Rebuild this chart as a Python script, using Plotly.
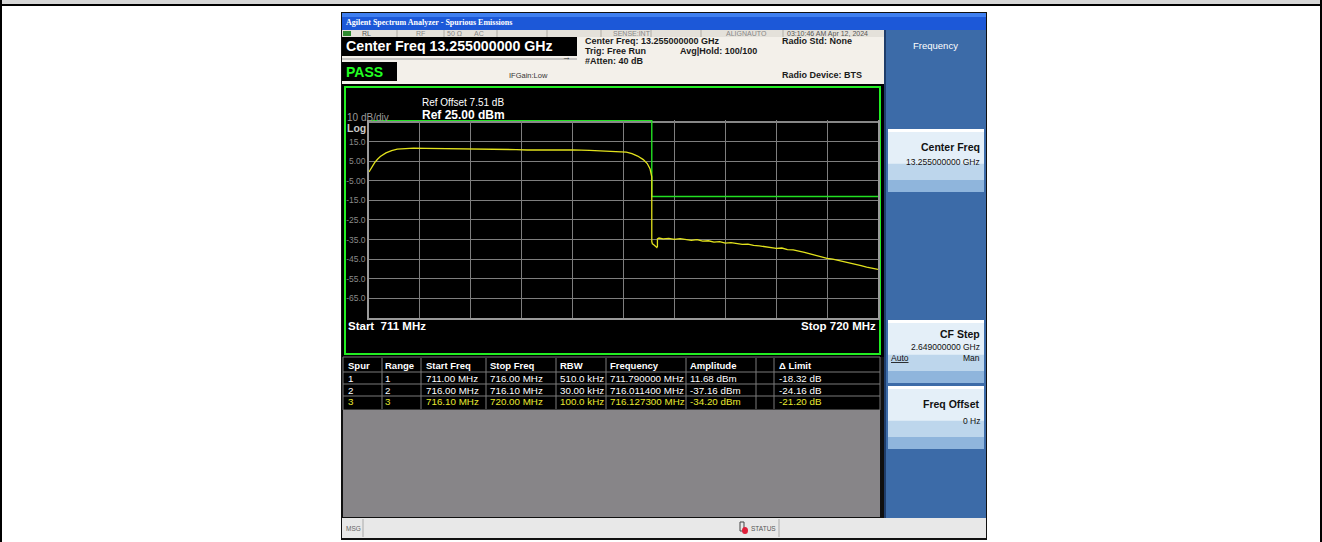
import plotly.graph_objects as go
import numpy as np

W, H = 1322, 542
FONT = "Liberation Sans, Arial, sans-serif"

# ---------------- data ----------------
freq_mhz = [711.00, 711.05, 711.10, 711.15, 711.20, 711.30, 711.40, 711.50, 711.60, 711.79,
            712.00, 712.30, 712.60, 712.80, 713.00, 713.30, 713.60, 713.80, 714.00, 714.30,
            714.60, 714.90, 715.20, 715.40, 715.55, 715.65, 715.75, 715.85, 715.92, 715.97,
            716.00, 716.00, 716.011, 716.03, 716.05, 716.07, 716.09, 716.10, 716.10, 716.127,
            716.20, 716.30, 716.40, 716.50, 716.60, 716.70, 716.80, 716.90, 717.00, 717.10,
            717.20, 717.30, 717.40, 717.50, 717.60, 717.70, 717.80, 717.90, 718.00, 718.10,
            718.20, 718.30, 718.40, 718.50, 718.60, 718.70, 718.80, 718.90, 719.00, 719.10,
            719.20, 719.30, 719.40, 719.50, 719.60, 719.70, 719.80, 719.90, 720.00]
level_dbm = [-0.5, 2.0, 4.3, 6.0, 7.4, 9.2, 10.4, 11.1, 11.4, 11.68,
             11.5, 11.4, 11.3, 11.5, 11.3, 11.2, 10.9, 10.7, 10.8, 10.9,
             10.8, 10.5, 10.2, 10.1, 9.6, 8.8, 7.6, 5.8, 3.8, 1.0,
             -3.0, -36.0, -37.16, -37.5, -38.2, -38.8, -39.0, -38.5, -34.6, -34.20,
             -34.6, -34.4, -34.9, -34.5, -35.1, -35.4, -35.0, -35.8, -35.6, -36.3,
             -36.0, -36.8, -36.6, -37.0, -37.4, -37.3, -38.0, -38.2, -38.7, -39.0,
             -39.5, -39.3, -40.1, -40.3, -40.8, -41.5, -42.3, -43.1, -43.9, -44.6,
             -45.0, -45.6, -46.4, -47.0, -47.7, -48.3, -49.0, -49.6, -50.2]

limit_start_mhz = [711.0, 716.0, 716.1]
limit_stop_mhz = [716.0, 716.1, 720.0]
limit_dbm = [30.0, -13.0, -13.0]

y_tick_vals = [15, 5, -5, -15, -25, -35, -45, -55, -65]
y_tick_text = ["15.0", "5.00", "-5.00", "-15.0", "-25.0", "-35.0", "-45.0", "-55.0", "-65.0"]

ref_level = 25.0
db_per_div = 10
start_mhz, stop_mhz = 711.0, 720.0

spur_ids = ["1", "2", "3"]
range_ids = ["1", "2", "3"]
range_start = ["711.00 MHz", "716.00 MHz", "716.10 MHz"]
range_stop = ["716.00 MHz", "716.10 MHz", "720.00 MHz"]
rbw = ["510.0 kHz", "30.00 kHz", "100.0 kHz"]
spur_freq = ["711.790000 MHz", "716.011400 MHz", "716.127300 MHz"]
spur_amp = ["11.68 dBm", "-37.16 dBm", "-34.20 dBm"]
delta_limit = ["-18.32 dB", "-24.16 dB", "-21.20 dB"]
table_headers = ["Spur", "Range", "Start Freq", "Stop Freq", "RBW", "Frequency", "Amplitude", "", "\u0394 Limit"]

# ---------------- helpers ----------------
shapes, annots = [], []


def P(x):
    return x / W


def Q(y):
    return 1 - y / H


def rect(x0, y0, x1, y1, fill, line=None, lw=0, layer="below"):
    shapes.append(dict(type="rect", xref="paper", yref="paper",
                       x0=P(x0), x1=P(x1), y0=Q(y1), y1=Q(y0),
                       fillcolor=fill, line=dict(width=lw, color=line or fill), layer=layer))


def hline(x0, x1, y, color, lw=1, layer="below"):
    shapes.append(dict(type="line", xref="paper", yref="paper", x0=P(x0), x1=P(x1),
                       y0=Q(y), y1=Q(y), line=dict(color=color, width=lw), layer=layer))


def vline(x, y0, y1, color, lw=1, layer="below"):
    shapes.append(dict(type="line", xref="paper", yref="paper", x0=P(x), x1=P(x),
                       y0=Q(y0), y1=Q(y1), line=dict(color=color, width=lw), layer=layer))


def text(x, y, s, size, color, bold=False, anchor="left", family=FONT):
    annots.append(dict(xref="paper", yref="paper", x=P(x), y=Q(y),
                       text=("<b>%s</b>" % s) if bold else s, showarrow=False,
                       xanchor=anchor, yanchor="middle", borderpad=0,
                       font=dict(size=size, color=color, family=family)))


# ---------------- document frame ----------------
rect(0, 0, W, 4, "#d6d6d6")
rect(0, 4, W, 6, "#000000")
rect(0, 0, 2, H, "#000000")
rect(W - 2, 0, W, H, "#000000")

# ---------------- analyzer screenshot ----------------
rect(341, 12, 987, 540, "#101010")
# title bar
rect(342, 13, 986, 30, "#1c58d8")
rect(342, 13, 986, 17, "#3f7ff0")
text(345, 23, "Agilent Spectrum Analyzer - Spurious Emissions", 8, "#ffffff", bold=True,
     family="Liberation Serif, Times New Roman, serif")
# status row
rect(342, 30, 884, 37, "#e4e1da")
rect(343, 31, 351, 36, "#2f8a2f")
text(361, 33.5, "RL", 7, "#555555")
text(415, 33.5, "RF", 7, "#888888")
text(446, 33.5, "50 \u03a9", 7, "#888888")
text(473, 33.5, "AC", 7, "#888888")
text(612, 33.5, "SENSE:INT", 7, "#888888")
text(725, 33.5, "ALIGNAUTO", 7, "#888888")
text(786, 33.5, "03:10:46 AM Apr 12, 2024", 7, "#555555")
for sx in [397, 444, 497, 547, 601, 651, 701, 783]:
    vline(sx, 30, 37, "#b0aca4")
# header
rect(342, 37, 884, 84, "#f3f0ea")
rect(342, 37, 577, 56, "#000000")
text(345, 46, "Center Freq 13.255000000 GHz", 14.2, "#ffffff", bold=True)
rect(342, 62, 397, 81, "#000000")
text(345, 71.5, "PASS", 14, "#22ff22", bold=True)
hline(342, 577, 59, "#9a9a9a")
text(508, 75, "IFGain:Low", 7.5, "#333333")
text(561, 57, "\u2192", 9, "#333333")
text(584, 41, "Center Freq: 13.255000000 GHz", 9, "#1a1a1a", bold=True)
text(584, 51, "Trig: Free Run", 9, "#1a1a1a", bold=True)
text(679, 51, "Avg|Hold: 100/100", 9, "#1a1a1a", bold=True)
text(584, 61, "#Atten: 40 dB", 9, "#1a1a1a", bold=True)
text(781, 41, "Radio Std: None", 9, "#1a1a1a", bold=True)
text(781, 75, "Radio Device: BTS", 9, "#1a1a1a", bold=True)

# graticule window
rect(342, 84, 884, 357, "#000000")
rect(345, 87, 880, 354, "rgba(0,0,0,0)", line="#22ee22", lw=2)
text(421, 103, "Ref Offset 7.51 dB", 10, "#ffffff")
text(421, 115, "Ref 25.00 dBm", 12, "#ffffff", bold=True)
text(346, 118, "10 dB/div", 10, "#9a9a9a")
text(346, 128, "Log", 10.5, "#c8c8c8", bold=True)
text(347, 326, "Start  711 MHz", 11.5, "#ffffff", bold=True)
text(877, 326, "Stop 720 MHz", 11.5, "#ffffff", bold=True, anchor="right")

# results table
rect(343, 357, 880, 410, "#000000", line="#777777", lw=1)
col_x = [347, 384, 425, 489, 559, 609, 689, 758, 778]
sep_x = [382, 421, 486, 556, 606, 686, 756, 774]
row_y = [365, 378, 390, 402]
row_bounds = [372, 384, 396]
for sx in sep_x:
    vline(sx, 358, 409, "#7a7a7a")
for by in row_bounds:
    hline(343, 880, by, "#7a7a7a")
for cx, h in zip(col_x, table_headers):
    if h:
        text(cx, row_y[0], h, 9.5, "#ffffff", bold=True)
rows = list(zip(spur_ids, range_ids, range_start, range_stop, rbw, spur_freq, spur_amp, ["", "", ""], delta_limit))
for i, r in enumerate(rows):
    col = "#e8e830" if i == 2 else "#ffffff"
    for cx, val in zip(col_x, r):
        if val:
            text(cx, row_y[i + 1], val, 9.8, col)

# grey area
rect(343, 410, 880, 517, "#878588")

# right softkey panel
rect(884, 30, 986, 518, "#3c6ba8")
vline(885, 30, 518, "#1f3d6a", lw=2)
text(935, 46, "Frequency", 9.5, "#ffffff", anchor="center")


def softkey(y0, y1):
    rect(888, y0, 984, y1, "#bdd6ec")
    rect(888, y0, 984, y0 + 3, "#ffffff")
    rect(888, y0 + 3, 984, y0 + (y1 - y0) * 0.55, "#e4eff8")
    rect(888, y1 - 12, 984, y1, "#8fb5dc")


softkey(129, 192)
text(981, 147, "Center Freq", 10.5, "#111111", bold=True, anchor="right")
text(981, 162, "13.255000000 GHz", 8.5, "#111111", anchor="right")
softkey(320, 383)
text(981, 334, "CF Step", 10.5, "#111111", bold=True, anchor="right")
text(981, 347, "2.649000000 GHz", 8.5, "#111111", anchor="right")
text(890, 358, "<u>Auto</u>", 8.5, "#111111")
text(981, 358, "Man", 8.5, "#111111", anchor="right")
softkey(386, 449)
text(981, 404, "Freq Offset", 10.5, "#111111", bold=True, anchor="right")
text(981, 421, "0 Hz", 8.5, "#111111", anchor="right")

# message bar
rect(342, 518, 986, 538, "#e8e8e8")
text(345, 528, "MSG", 6.5, "#666666")
vline(363, 519, 537, "#aaaaaa")
rect(740, 522, 744, 531, "rgba(0,0,0,0)", line="#444444", lw=1)
shapes.append(dict(type="circle", xref="paper", yref="paper", x0=P(742), x1=P(748), y0=Q(534), y1=Q(527),
                   fillcolor="#e0203a", line=dict(width=0), layer="below"))
text(750, 528, "STATUS", 6.5, "#555555")
vline(779, 519, 537, "#aaaaaa")

# ---------------- spectrum plot ----------------
y_top = ref_level + 1.0
y_bot = ref_level - 10 * db_per_div

lim_x, lim_y = [], []
for a, b, l in zip(limit_start_mhz, limit_stop_mhz, limit_dbm):
    lim_x += [a, b]
    lim_y += [l, l]
lim_y_disp = list(np.minimum(np.array(lim_y), y_top - 0.2))

fig = go.Figure()
fig.add_trace(go.Scatter(x=lim_x, y=lim_y_disp, mode="lines", line=dict(color="#22e022", width=1.4),
                         hoverinfo="skip", showlegend=False))
fig.add_trace(go.Scatter(x=freq_mhz, y=level_dbm, mode="lines", line=dict(color="#e2e21c", width=1.3),
                         showlegend=False))

# reference (top) graticule line
shapes.append(dict(type="line", xref="x", yref="y", x0=start_mhz, x1=stop_mhz, y0=ref_level, y1=ref_level,
                   line=dict(color="#b4b4b4", width=1.5), layer="below"))

fig.update_layout(
    width=W, height=H, autosize=False,
    margin=dict(l=0, r=0, t=0, b=0, pad=0),
    paper_bgcolor="#ffffff", plot_bgcolor="#000000",
    shapes=shapes, annotations=annots, showlegend=False,
    xaxis=dict(domain=[P(369), P(878)], range=[start_mhz, stop_mhz], dtick=(stop_mhz - start_mhz) / 10,
               tick0=start_mhz, showgrid=True, gridcolor="#7e7e7e", gridwidth=1, zeroline=False,
               showticklabels=False, ticks="", showline=True, linecolor="#9a9a9a", linewidth=1.5,
               fixedrange=True),
    yaxis=dict(domain=[Q(318), Q(120)], range=[y_bot, y_top], tickvals=y_tick_vals, ticktext=y_tick_text,
               showgrid=True, gridcolor="#7e7e7e", gridwidth=1, zeroline=False, ticks="",
               showline=True, mirror=True, linecolor="#9a9a9a", linewidth=1.5,
               tickfont=dict(size=8.5, color="#8a8a8a", family=FONT), fixedrange=True),
)

fig.write_html("out.html", config={"displayModeBar": False},
               post_script="document.body.style.margin='0';document.body.style.overflow='hidden';")
